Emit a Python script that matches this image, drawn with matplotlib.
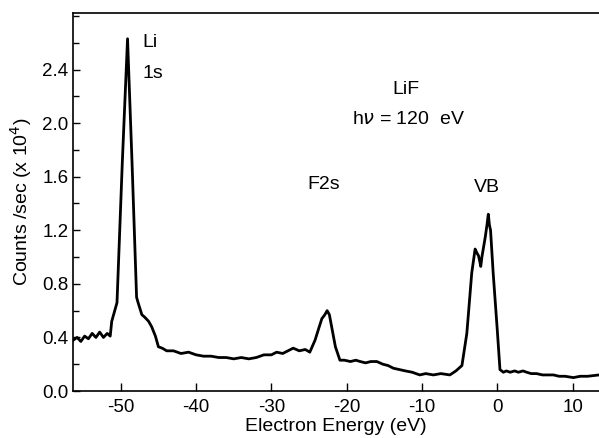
import matplotlib
matplotlib.use("Agg")
import matplotlib.pyplot as plt
from matplotlib.ticker import MultipleLocator

plt.rcParams['font.family'] = ['Liberation Sans', 'DejaVu Sans']

# spectrum (eV, counts/sec x 10^4)
energy = [-56.3, -55.8, -55.3, -54.8, -54.3, -53.8, -53.3, -52.8, -52.3, -51.8,
          -51.4, -51.2, -50.8, -50.5, -49.8, -49.1, -48.5, -47.9, -47.7, -47.2,
          -46.8, -46.3, -45.9, -45.4, -45.0, -44.5, -43.9, -43.0, -42.0, -41.0,
          -40.0, -39.0, -38.0, -37.0, -36.0, -35.0, -34.0, -33.0, -32.0, -31.0,
          -30.0, -29.3, -28.5, -27.8, -27.1, -26.3, -25.5, -24.9, -24.2, -23.7,
          -23.3, -22.9, -22.6, -22.3, -22.0, -21.5, -20.9, -20.3, -19.5, -18.8,
          -18.2, -17.5, -16.8, -16.0, -15.2, -14.5, -13.8, -13.0, -12.2, -11.3,
          -10.3, -9.5, -8.5, -7.5, -6.3, -5.5, -4.7, -4.05, -3.4, -2.95,
          -2.7, -2.5, -2.3, -2.2, -2.05, -1.6, -1.35, -1.2, -1.05, -0.9,
          -0.55, 0.0, 0.35, 0.8, 1.2, 1.7, 2.3, 2.8, 3.4, 3.9,
          4.5, 5.2, 6.0, 6.8, 7.45, 8.2, 9.0, 10.1, 11.0, 12.0, 13.5]
counts = [0.38, 0.40, 0.37, 0.41, 0.39, 0.43, 0.40, 0.44, 0.40, 0.43,
          0.41, 0.52, 0.60, 0.66, 1.70, 2.63, 1.70, 0.70, 0.66, 0.57,
          0.55, 0.52, 0.48, 0.41, 0.33, 0.32, 0.30, 0.30, 0.28, 0.29,
          0.27, 0.26, 0.26, 0.25, 0.25, 0.24, 0.25, 0.24, 0.25, 0.27,
          0.27, 0.29, 0.28, 0.30, 0.32, 0.30, 0.31, 0.29, 0.38, 0.47,
          0.54, 0.57, 0.60, 0.57, 0.48, 0.33, 0.23, 0.23, 0.22, 0.23,
          0.22, 0.21, 0.22, 0.22, 0.20, 0.19, 0.17, 0.16, 0.15, 0.14,
          0.12, 0.13, 0.12, 0.13, 0.12, 0.15, 0.19, 0.43, 0.88, 1.06,
          1.03, 1.01, 0.96, 0.93, 1.00, 1.15, 1.25, 1.32, 1.24, 1.20,
          0.88, 0.45, 0.16, 0.14, 0.15, 0.14, 0.15, 0.14, 0.15, 0.14,
          0.13, 0.13, 0.12, 0.12, 0.12, 0.11, 0.11, 0.10, 0.11, 0.11, 0.12]

x_ticks = [-50, -40, -30, -20, -10, 0, 10]
y_ticks = [0.0, 0.4, 0.8, 1.2, 1.6, 2.0, 2.4]

fig = plt.figure(figsize=(5.99, 4.38), dpi=100)
ax = fig.add_axes([0.1224, 0.1073, 0.8776, 0.8623])

ax.plot(energy, counts, color='black', lw=2.0)

ax.set_xlim(-56.3, 13.5)
ax.set_ylim(0, 2.82)
ax.set_xticks(x_ticks)
ax.set_xticklabels([str(t) for t in x_ticks])
ax.set_yticks(y_ticks)
ax.set_yticklabels(['%.1f' % t for t in y_ticks])
ax.yaxis.set_minor_locator(MultipleLocator(0.2))
ax.tick_params(axis='x', direction='in', length=6, width=1, labelsize=13.5, pad=6)
ax.tick_params(axis='y', which='major', direction='in', length=5, width=1, labelsize=13.5)
ax.tick_params(axis='y', which='minor', direction='in', length=4, width=1)
ax.spines['right'].set_visible(False)
for s in ['left', 'bottom', 'top']:
    ax.spines[s].set_linewidth(1.2)

ax.set_xlabel('Electron Energy (eV)', fontsize=14, labelpad=1)
ax.set_ylabel(r'Counts /sec (x 10$^4$)', fontsize=14, labelpad=6)

# peak labels
ax.text(-46.1, 2.60, 'Li', fontsize=14, ha='center', va='center')
ax.text(-45.8, 2.37, '1s', fontsize=14, ha='center', va='center')
ax.text(-12.2, 2.25, 'LiF', fontsize=14, ha='center', va='center')
ax.text(-11.8, 2.03, r'h$\nu$ = 120  eV', fontsize=14, ha='center', va='center')
ax.text(-23.1, 1.54, 'F2s', fontsize=14, ha='center', va='center')
ax.text(-1.4, 1.52, 'VB', fontsize=14, ha='center', va='center')

fig.savefig('out.png', dpi=100)
